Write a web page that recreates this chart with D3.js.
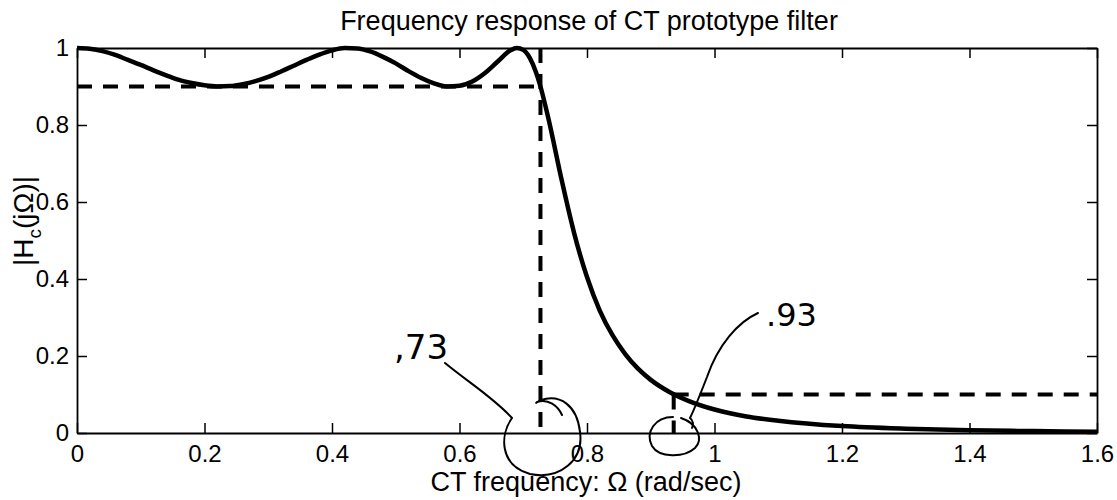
<!DOCTYPE html>
<html>
<head>
<meta charset="utf-8">
<script src="https://cdn.jsdelivr.net/npm/d3@7"></script>
<style>
  body { margin: 0; background: #fff; }
  text { font-family: "Liberation Sans", Arial, Helvetica, sans-serif; fill: #000; }
</style>
</head>
<body>
<div id="chart"></div>
<script>
// Frequency samples (rad/sec) and magnitude
const omega = [0, 0.02, 0.04, 0.06, 0.08, 0.10, 0.12, 0.14, 0.16, 0.18, 0.20, 0.22, 0.24, 0.26, 0.28,
  0.30, 0.32, 0.34, 0.36, 0.38, 0.40, 0.42, 0.44, 0.46, 0.48, 0.50, 0.52, 0.54, 0.56, 0.58, 0.60,
  0.62, 0.64, 0.66, 0.68, 0.69, 0.70, 0.71, 0.72, 0.727, 0.74, 0.76, 0.78, 0.80, 0.82, 0.84, 0.86,
  0.88, 0.90, 0.93, 0.96, 1.00, 1.05, 1.10, 1.20, 1.30, 1.40, 1.50, 1.60];
const magnitude = [1.000, 0.998, 0.992, 0.982, 0.969, 0.956, 0.942, 0.929, 0.917, 0.909, 0.903, 0.900,
  0.901, 0.906, 0.914, 0.925, 0.939, 0.954, 0.969, 0.983, 0.994, 1.000, 0.999, 0.991, 0.977, 0.960,
  0.940, 0.922, 0.908, 0.900, 0.902, 0.913, 0.935, 0.965, 0.994, 1.000, 0.995, 0.975, 0.937, 0.900,
  0.813, 0.659, 0.518, 0.405, 0.318, 0.254, 0.205, 0.167, 0.138, 0.106, 0.083, 0.061, 0.043, 0.032,
  0.018, 0.011, 0.007, 0.005, 0.003];

// Spec lines: passband edge / ripple, stopband edge / attenuation
const passEdge = 0.727, passLevel = 0.9;
const stopEdge = 0.936, stopLevel = 0.1;

const xTicks = [0, 0.2, 0.4, 0.6, 0.8, 1, 1.2, 1.4, 1.6];
const yTicks = [0, 0.2, 0.4, 0.6, 0.8, 1];

const width = 1117, height = 500;
const margin = { top: 48, right: 20, bottom: 67, left: 77 };

const svg = d3.select("#chart").append("svg")
  .attr("width", width)
  .attr("height", height);

const x = d3.scaleLinear().domain([0, 1.6]).range([margin.left, width - margin.right]);
const y = d3.scaleLinear().domain([0, 1]).range([height - margin.bottom, margin.top]);

// axes, MATLAB style box with inward ticks
const fmt = d => d3.format("~g")(d);
const gx = svg.append("g")
  .attr("transform", `translate(0,${y(0)})`)
  .call(d3.axisBottom(x).tickValues(xTicks).tickFormat(fmt).tickSize(-10).tickSizeOuter(0).tickPadding(12));
const gxTop = svg.append("g")
  .attr("transform", `translate(0,${y(1)})`)
  .call(d3.axisTop(x).tickValues(xTicks).tickFormat("").tickSize(-10).tickSizeOuter(0));
const gy = svg.append("g")
  .attr("transform", `translate(${x(0)},0)`)
  .call(d3.axisLeft(y).tickValues(yTicks).tickFormat(fmt).tickSize(-10).tickSizeOuter(0).tickPadding(8));
const gyRight = svg.append("g")
  .attr("transform", `translate(${x(1.6)},0)`)
  .call(d3.axisRight(y).tickValues(yTicks).tickFormat("").tickSize(-10).tickSizeOuter(0));

[gx, gxTop, gy, gyRight].forEach(g => {
  g.selectAll("path.domain").attr("stroke", "#000").attr("stroke-width", 1.8);
  g.selectAll(".tick line").attr("stroke", "#000").attr("stroke-width", 1.5);
  g.selectAll(".tick text").attr("font-size", 24).attr("fill", "#000")
    .style("font-family", "'Liberation Sans', Arial, sans-serif");
});
gx.selectAll(".tick text").attr("dy", "0.71em");

// dashed spec lines
const dash = "15,11";
const specLines = [
  [[0, passLevel], [passEdge, passLevel]],
  [[passEdge, 1], [passEdge, 0]],
  [[stopEdge, stopLevel], [1.6, stopLevel]],
  [[stopEdge, stopLevel], [stopEdge, 0]]
];
svg.append("g").selectAll("line")
  .data(specLines)
  .enter().append("line")
  .attr("x1", d => x(d[0][0])).attr("y1", d => y(d[0][1]))
  .attr("x2", d => x(d[1][0])).attr("y2", d => y(d[1][1]))
  .attr("stroke", "#000")
  .attr("stroke-width", 4)
  .attr("stroke-dasharray", dash);

// response curve
const pts = omega.map((w, i) => [w, magnitude[i]]);
svg.append("path")
  .datum(pts)
  .attr("fill", "none")
  .attr("stroke", "#000")
  .attr("stroke-width", 4.5)
  .attr("stroke-linejoin", "round")
  .attr("d", d3.line().x(d => x(d[0])).y(d => y(d[1])).curve(d3.curveMonotoneX));

// titles
svg.append("text")
  .attr("x", 589).attr("y", 30)
  .attr("text-anchor", "middle")
  .attr("font-size", 27)
  .text("Frequency response of CT prototype filter");

svg.append("text")
  .attr("x", 586).attr("y", 491)
  .attr("text-anchor", "middle")
  .attr("font-size", 27)
  .text("CT frequency: Ω (rad/sec)");

const ylab = svg.append("text")
  .attr("transform", "translate(33,221) rotate(-90)")
  .attr("text-anchor", "middle")
  .attr("font-size", 28);
ylab.append("tspan").text("|H");
ylab.append("tspan").attr("font-size", 19).attr("dy", 8).text("c");
ylab.append("tspan").attr("dy", -8).text("(jΩ)|");

// handwritten notes on the scan
const note = svg.append("g")
  .attr("fill", "none")
  .attr("stroke", "#000")
  .attr("stroke-width", 2)
  .attr("stroke-linecap", "round");
note.append("path")
  .attr("d", "M445,363 C468,382 494,398 512,418 C500,435 499,465 530,474 C560,480 584,460 580,432 C577,405 560,394 541,400 C537,402 535,404 537,402 C548,398 558,406 562,415");
note.append("path")
  .attr("d", "M758,313 C738,322 718,345 707,377 C700,395 694,410 690,418 C693,420 694,425 692,428");
note.append("path")
  .attr("d", "M673,417 C655,417 645,432 652,446 C659,458 684,458 695,448 C703,440 699,424 681,418");

svg.append("text")
  .attr("x", 394).attr("y", 359)
  .attr("font-size", 34)
  .style("font-family", "'DejaVu Sans', sans-serif")
  .text(",73");
svg.append("text")
  .attr("x", 766).attr("y", 326)
  .attr("font-size", 32)
  .style("font-family", "'DejaVu Sans', sans-serif")
  .text(".93");
</script>
</body>
</html>
